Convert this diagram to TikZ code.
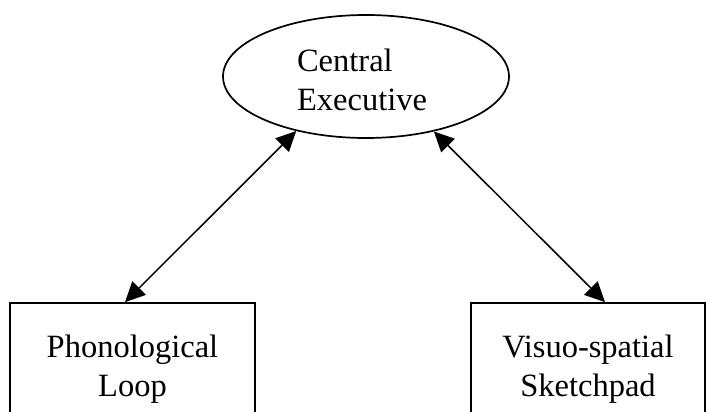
\documentclass[tikz,border=0pt]{standalone}
\usepackage{fontspec}
\setmainfont{Liberation Serif}
\usetikzlibrary{shapes.geometric,arrows.meta}
\tikzset{
  lbl/.style={font=\fontsize{32.5}{38.7}\selectfont},
  ellbox/.style={draw,ellipse,line width=1.7pt,minimum width=286pt,minimum height=123pt,inner sep=0pt},
  boxnode/.style={draw,rectangle,line width=1.7pt,inner sep=0pt,align=center,lbl},
  link/.style={line width=1.5pt,{Triangle[length=20pt,width=19pt]}-{Triangle[length=20pt,width=19pt]}}
}
\begin{document}
\begin{tikzpicture}[x=1pt,y=-1pt]
\useasboundingbox (0,0) rectangle (707,412);
\node[ellbox] (E) at (366,76.5) {};
\node[lbl,align=left,inner sep=0pt] (ET) at (362,80) {Central\\Executive};
\node[boxnode,minimum width=245pt,minimum height=133pt] (L) at (132.5,369.5) {Phonological\\Loop};
\node[boxnode,minimum width=234pt,minimum height=133pt] (R) at (588,369.5) {Visuo-spatial\\Sketchpad};
\draw[link] ([xshift=-7.5pt]L.north) -- (E.218);
\draw[link] (E.321) -- ([xshift=17pt]R.north);
\end{tikzpicture}
\end{document}
